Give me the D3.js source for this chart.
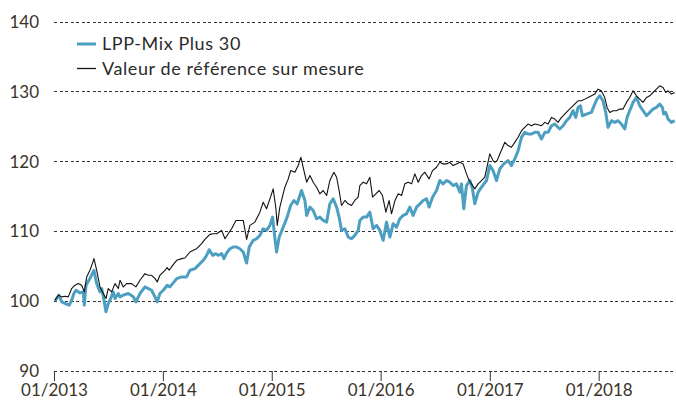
<!DOCTYPE html>
<html>
<head>
<meta charset="utf-8">
<script src="https://cdn.jsdelivr.net/npm/d3@7"></script>
<style>
  body { margin: 0; background: #fff; }
  text { font-family: Lato, "Open Sans", sans-serif; }
</style>
</head>
<body>
<div id="chart"></div>
<script>
// series labels
var seriesNames = ["LPP-Mix Plus 30", "Valeur de référence sur mesure"];
var yTicks = [90, 100, 110, 120, 130, 140];
var xTickYears = [2013, 2014, 2015, 2016, 2017, 2018];

// LPP-Mix Plus 30 (time as decimal year, index value)
var mixT = [2013.009,2013.046,2013.071,2013.101,2013.140,2013.162,2013.183,2013.202,2013.239,2013.269,2013.278,2013.294,2013.330,2013.367,2013.392,2013.422,2013.438,2013.459,2013.477,2013.498,2013.520,2013.544,2013.560,2013.590,2013.606,2013.636,2013.682,2013.728,2013.752,2013.789,2013.835,2013.865,2013.896,2013.927,2013.948,2013.972,
  2014.003,2014.039,2014.064,2014.089,2014.126,2014.172,2014.217,2014.248,2014.294,2014.324,2014.370,2014.401,2014.425,2014.456,2014.486,2014.507,2014.539,2014.560,2014.584,2014.615,2014.645,2014.676,2014.706,2014.737,2014.768,2014.792,2014.828,2014.860,2014.890,2014.920,2014.951,2014.982,
  2015.006,2015.028,2015.043,2015.067,2015.104,2015.140,2015.172,2015.202,2015.232,2015.257,2015.272,2015.303,2015.319,2015.349,2015.379,2015.410,2015.440,2015.471,2015.502,2015.532,2015.562,2015.594,2015.617,2015.639,2015.670,2015.700,2015.731,2015.761,2015.792,2015.807,2015.838,2015.869,2015.899,2015.929,2015.961,2015.991,
  2016.021,2016.052,2016.083,2016.113,2016.144,2016.174,2016.205,2016.236,2016.266,2016.296,2016.328,2016.358,2016.388,2016.419,2016.443,2016.474,2016.511,2016.541,2016.572,2016.603,2016.633,2016.663,2016.694,2016.725,2016.740,2016.761,2016.786,2016.817,2016.841,2016.862,2016.893,2016.924,2016.970,
  2017.000,2017.030,2017.061,2017.092,2017.128,2017.168,2017.199,2017.229,2017.260,2017.275,2017.291,2017.321,2017.351,2017.383,2017.413,2017.443,2017.474,2017.505,2017.535,2017.566,2017.596,2017.642,2017.673,2017.704,2017.734,2017.764,2017.789,2017.810,2017.832,2017.850,2017.887,2017.933,2017.963,2017.984,
  2018.009,2018.039,2018.064,2018.085,2018.117,2018.147,2018.177,2018.208,2018.239,2018.260,2018.284,2018.315,2018.346,2018.376,2018.406,2018.438,2018.468,2018.498,2018.529,2018.560,2018.584,2018.596,2018.615,2018.636,2018.667,2018.697];
var mixV = [100.05,100.86,99.9,99.67,99.43,100.14,101.1,101.57,101.19,101.33,99.43,102.29,103.24,104.43,102.52,101.33,101.81,100.14,98.48,99.67,100.38,101.33,100.38,101.1,100.62,100.86,101.1,100.62,99.9,101.1,102.05,101.81,101.57,100.62,99.9,101.1,
  101.57,102.29,102.05,102.52,103.24,103.48,103.48,104.43,104.67,105.14,105.86,106.57,107.38,106.57,106.81,106.57,106.81,106.1,106.9,107.52,107.76,107.76,107.52,107.05,105.48,107.76,108.71,108.95,109.43,110.38,110.14,110.86,
  112.05,108.95,107.05,109.19,110.62,112.05,113.71,114.43,113.95,115.14,115.86,114.43,112.29,113.48,113.0,111.81,112.05,111.57,111.33,113.95,114.67,113.48,112.05,110.14,110.38,109.19,108.95,109.43,110.14,111.57,112.05,112.05,112.76,110.38,110.86,110.14,
  108.71,111.33,109.19,111.1,110.62,111.81,112.29,112.52,113.48,112.29,113.48,113.95,114.43,114.67,113.48,114.9,115.86,117.29,116.81,117.29,117.05,116.57,116.81,115.62,116.81,113.24,116.57,117.29,116.1,113.95,115.62,116.33,117.29,
  119.43,118.71,117.29,118.95,119.67,120.14,119.43,120.38,121.57,122.52,123.48,124.19,123.95,123.95,124.19,124.19,123.24,124.19,124.19,125.14,125.38,124.67,125.14,125.86,126.33,127.29,126.33,127.76,128.0,126.57,126.81,127.05,128.24,128.95,
  129.43,128.71,127.05,124.9,125.86,125.62,125.86,125.38,124.67,126.33,127.29,128.48,129.19,128.0,127.29,126.57,127.05,127.52,127.76,128.24,127.76,126.81,127.05,126.1,125.62,125.86];

// Valeur de référence sur mesure
var refT = [2013.009,2013.039,2013.071,2013.101,2013.131,2013.162,2013.193,2013.223,2013.254,2013.278,2013.300,2013.330,2013.352,2013.367,2013.392,2013.422,2013.452,2013.477,2013.498,2013.529,2013.560,2013.590,2013.606,2013.636,2013.667,2013.713,2013.752,2013.789,2013.835,2013.865,2013.896,2013.927,2013.948,2013.972,
  2014.018,2014.039,2014.057,2014.089,2014.126,2014.172,2014.202,2014.248,2014.278,2014.309,2014.355,2014.385,2014.431,2014.461,2014.492,2014.539,2014.569,2014.599,2014.630,2014.670,2014.706,2014.737,2014.768,2014.798,2014.844,2014.890,2014.920,2014.951,2014.982,
  2015.012,2015.037,2015.049,2015.073,2015.119,2015.150,2015.172,2015.211,2015.241,2015.266,2015.294,2015.319,2015.349,2015.379,2015.410,2015.440,2015.471,2015.502,2015.532,2015.569,2015.594,2015.617,2015.639,2015.670,2015.700,2015.731,2015.761,2015.792,2015.807,2015.838,2015.869,2015.899,2015.924,2015.954,2015.985,
  2016.015,2016.046,2016.076,2016.098,2016.130,2016.160,2016.190,2016.220,2016.251,2016.282,2016.312,2016.343,2016.373,2016.404,2016.443,2016.474,2016.511,2016.541,2016.572,2016.603,2016.633,2016.663,2016.694,2016.725,2016.755,2016.786,2016.810,2016.832,2016.862,2016.893,2016.924,2016.954,
  2017.000,2017.030,2017.046,2017.067,2017.092,2017.138,2017.168,2017.199,2017.229,2017.260,2017.291,2017.321,2017.351,2017.383,2017.413,2017.443,2017.474,2017.505,2017.535,2017.566,2017.596,2017.626,2017.658,2017.688,2017.718,2017.749,2017.779,2017.810,2017.841,2017.872,2017.902,2017.933,2017.963,2017.993,
  2018.024,2018.055,2018.076,2018.101,2018.131,2018.162,2018.193,2018.223,2018.254,2018.284,2018.315,2018.346,2018.376,2018.406,2018.438,2018.468,2018.498,2018.529,2018.560,2018.590,2018.615,2018.636,2018.667,2018.697];
var refV = [100.14,100.86,100.62,100.71,100.62,101.81,102.29,102.52,102.29,101.33,103.48,104.43,105.38,106.1,104.43,102.05,101.1,100.38,101.81,101.33,102.52,101.81,103.0,102.05,102.52,102.52,102.05,103.0,103.95,103.71,103.71,103.24,102.76,103.71,
  104.43,104.81,104.43,105.14,105.86,106.1,106.19,107.05,107.29,107.52,108.24,108.86,109.57,109.67,109.67,110.14,108.95,109.67,110.38,111.57,111.57,111.57,108.86,110.86,111.33,112.76,114.19,113.24,114.67,
  116.1,113.24,110.86,113.48,116.33,117.52,118.71,118.48,119.43,120.62,118.71,117.05,118.0,117.05,116.33,115.38,115.86,115.14,117.29,118.48,117.76,115.86,113.71,114.43,113.95,113.71,114.43,114.9,116.57,117.05,116.81,117.76,114.9,115.38,115.86,
  115.14,112.76,114.43,112.52,114.43,115.38,115.14,116.81,117.05,116.81,118.24,117.05,118.0,118.48,117.52,118.71,119.19,119.9,119.67,119.67,119.9,119.43,119.67,119.9,119.67,118.24,117.29,116.81,116.1,116.81,117.29,117.76,
  121.1,120.14,119.9,120.14,121.1,122.76,122.29,122.05,122.76,123.48,124.43,124.9,125.38,125.14,125.38,125.29,125.14,125.62,125.38,126.33,126.1,125.62,126.33,126.81,127.29,127.76,128.24,128.71,128.71,128.95,129.19,129.43,129.67,130.38,
  130.14,129.19,127.76,127.05,127.29,127.29,127.52,127.52,128.48,129.19,130.14,129.43,128.95,128.48,129.19,129.43,129.9,130.38,130.86,130.62,129.9,130.14,129.67,129.9];

var width = 676, height = 401;
var blue = "#4c9fc0", ink = "#2b2b2b", tickInk = "#3a3329";

var yearStart = new Date(2013, 0, 1).getTime();
function toDate(t) { return new Date(yearStart + (t - 2013) * 365.25 * 864e5); }

var svg = d3.select("#chart").append("svg")
  .attr("width", width)
  .attr("height", height);

var x = d3.scaleTime()
  .domain([new Date(2013, 0, 1), toDate(2018.709)])
  .range([54, 676]);

var y = d3.scaleLinear()
  .domain([90, 140])
  .range([371, 22]);

// dashed horizontal grid
svg.append("g")
  .selectAll("line")
  .data(yTicks)
  .join("line")
    .attr("x1", 54)
    .attr("x2", width)
    .attr("y1", function(d){ return y(d); })
    .attr("y2", function(d){ return y(d); })
    .attr("stroke", "#333")
    .attr("stroke-width", 1)
    .attr("stroke-dasharray", "3,2.5")
    .attr("shape-rendering", "crispEdges");

// y labels
svg.append("g")
  .selectAll("text")
  .data(yTicks)
  .join("text")
    .attr("x", 39)
    .attr("y", function(d){ return y(d); })
    .attr("dy", "0.35em")
    .attr("text-anchor", "end")
    .attr("font-size", "17px")
    .attr("fill", tickInk)
    .text(function(d){ return d; });

// x axis ticks + labels
var xAxis = d3.axisBottom(x)
  .tickValues(xTickYears.map(function(yr){ return new Date(yr, 0, 1); }))
  .tickFormat(d3.timeFormat("%m/%Y"))
  .tickSize(10)
  .tickPadding(3);

var gx = svg.append("g")
  .attr("transform", "translate(0,371)")
  .call(xAxis);
gx.select(".domain").remove();
gx.selectAll(".tick line").attr("stroke", tickInk).attr("stroke-width", 1);
gx.selectAll(".tick text")
  .attr("font-family", "Lato, sans-serif")
  .attr("font-size", "17px")
  .attr("fill", tickInk);

var line = d3.line()
  .x(function(d){ return x(toDate(d[0])); })
  .y(function(d){ return y(d[1]); });

svg.append("path")
  .datum(d3.zip(mixT, mixV))
  .attr("fill", "none")
  .attr("stroke", blue)
  .attr("stroke-width", 3)
  .attr("stroke-linejoin", "round")
  .attr("d", line);

svg.append("path")
  .datum(d3.zip(refT, refV))
  .attr("fill", "none")
  .attr("stroke", "#111")
  .attr("stroke-width", 1.1)
  .attr("stroke-linejoin", "round")
  .attr("d", line);

// legend
var legend = svg.append("g");
var legendColors = [blue, "#111"];
var legendWidths = [3, 1.3];
seriesNames.forEach(function(name, i){
  var ly = 44 + i * 24.5;
  legend.append("line")
    .attr("x1", 77).attr("x2", 96)
    .attr("y1", ly).attr("y2", ly)
    .attr("stroke", legendColors[i])
    .attr("stroke-width", legendWidths[i]);
  legend.append("text")
    .attr("x", 102)
    .attr("y", ly)
    .attr("dy", "0.35em")
    .attr("font-size", "18px")
    .attr("letter-spacing", "0.6px")
    .attr("fill", ink)
    .text(name);
});
</script>
</body>
</html>
